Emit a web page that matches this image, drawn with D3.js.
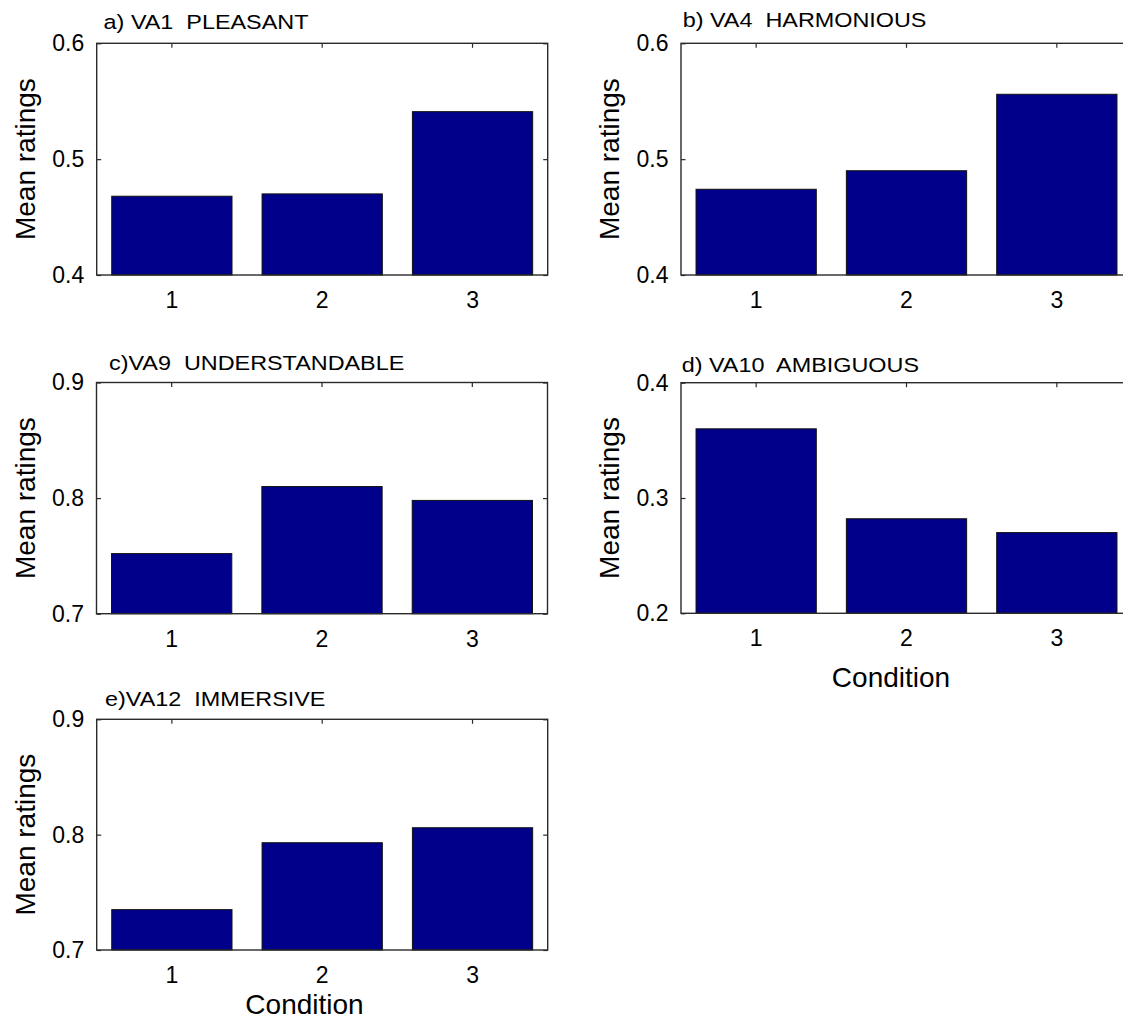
<!DOCTYPE html>
<html>
<head>
<meta charset="utf-8">
<script src="https://cdn.jsdelivr.net/npm/d3@7"></script>
<style>
  html, body { margin: 0; padding: 0; background: #fff; }
  svg { display: block; font-family: "Liberation Sans", Arial, Helvetica, sans-serif; }
</style>
</head>
<body>
<svg id="chart" width="1123" height="1021"></svg>
<script>
// ---- data ----
const categories = ["1", "2", "3"];
const titles = ["a) VA1  PLEASANT", "b) VA4  HARMONIOUS", "c)VA9  UNDERSTANDABLE", "d) VA10  AMBIGUOUS", "e)VA12  IMMERSIVE"];
const pleasant = [0.468, 0.470, 0.541];
const harmonious = [0.474, 0.490, 0.556];
const understandable = [0.752, 0.810, 0.798];
const ambiguous = [0.360, 0.282, 0.270];
const immersive = [0.735, 0.793, 0.806];
const ticksA = [0.4, 0.5, 0.6];
const ticksB = [0.4, 0.5, 0.6];
const ticksC = [0.7, 0.8, 0.9];
const ticksD = [0.2, 0.3, 0.4];
const ticksE = [0.7, 0.8, 0.9];
const yLabel = "Mean ratings";
const xLabel = "Condition";

// ---- layout (positions/styles only) ----
const layout = [
  { values: pleasant,       ticks: ticksA, title: titles[0], L: 96.7, R: 547.7, T: 43.3,  B: 275,   tx: 103.6, ty: 29.3,  xlab: false },
  { values: harmonious,     ticks: ticksB, title: titles[1], L: 681,  R: 1132,  T: 43.3,  B: 275,   tx: 682.7, ty: 26.5,  xlab: false },
  { values: understandable, ticks: ticksC, title: titles[2], L: 96.5, R: 547.5, T: 382.5, B: 613.7, tx: 109,   ty: 370,   xlab: false },
  { values: ambiguous,      ticks: ticksD, title: titles[3], L: 681,  R: 1132,  T: 382.7, B: 613.3, tx: 681.7, ty: 371.7, xlab: true, xlx: 891, xly: 687 },
  { values: immersive,      ticks: ticksE, title: titles[4], L: 96.7, R: 547.7, T: 719.3, B: 950,   tx: 105,   ty: 705.5, xlab: true, xlx: 304.5, xly: 1014 }
];

const barColor = "#00008a";
const axisColor = "#2a2a2a";
const tickLen = 4.5;

const svg = d3.select("#chart");

layout.forEach(p => {
  const g = svg.append("g");
  const x = d3.scaleBand().domain(categories).range([p.L, p.R]).paddingInner(0.2).paddingOuter(0.1);
  const y = d3.scaleLinear().domain([p.ticks[0], p.ticks[p.ticks.length - 1]]).range([p.B, p.T]);

  // tick axes (inside ticks)
  const left = g.append("g").attr("transform", `translate(${p.L},0)`)
    .call(d3.axisLeft(y).tickValues(p.ticks).tickFormat(d3.format(".1f")).tickSizeInner(-tickLen).tickSizeOuter(0).tickPadding(8 + tickLen));
  const right = g.append("g").attr("transform", `translate(${p.R},0)`)
    .call(d3.axisRight(y).tickValues(p.ticks).tickFormat("").tickSizeInner(-tickLen).tickSizeOuter(0));
  const top = g.append("g").attr("transform", `translate(0,${p.T})`)
    .call(d3.axisTop(x).tickFormat("").tickSizeInner(-tickLen).tickSizeOuter(0));
  const bottom = g.append("g").attr("transform", `translate(0,${p.B})`)
    .call(d3.axisBottom(x).tickSizeInner(-tickLen).tickSizeOuter(0).tickPadding(12 + tickLen));

  [left, right, top, bottom].forEach(a => {
    a.select(".domain").remove();
    a.selectAll(".tick line").attr("stroke", axisColor).attr("stroke-width", 1.2);
    a.selectAll(".tick text").attr("fill", "#000").attr("font-size", 23)
      .attr("font-family", "'Liberation Sans', Arial, Helvetica, sans-serif");
  });
  bottom.selectAll(".tick text").attr("dy", "0.71em");

  // bars
  g.append("g").selectAll("rect").data(p.values).join("rect")
    .attr("x", (d, i) => x(categories[i]))
    .attr("width", x.bandwidth())
    .attr("y", d => y(d))
    .attr("height", d => y(p.ticks[0]) - y(d))
    .attr("fill", barColor)
    .attr("stroke", "#111")
    .attr("stroke-width", 1);

  // axes box
  g.append("rect")
    .attr("x", p.L).attr("y", p.T).attr("width", p.R - p.L).attr("height", p.B - p.T)
    .attr("fill", "none").attr("stroke", axisColor).attr("stroke-width", 1.4);

  // title (slightly extended glyphs as in reference)
  g.append("text")
    .attr("transform", `translate(${p.tx},${p.ty}) scale(1.2,1)`)
    .attr("font-size", 19.5).attr("fill", "#000")
    .style("white-space", "pre")
    .text(p.title);

  // y label
  g.append("text")
    .attr("transform", `translate(${p.L - 62},${(p.T + p.B) / 2}) rotate(-90)`)
    .attr("text-anchor", "middle").attr("font-size", 28).attr("fill", "#000")
    .text(yLabel);

  if (p.xlab) {
    g.append("text")
      .attr("x", p.xlx).attr("y", p.xly)
      .attr("text-anchor", "middle").attr("font-size", 28).attr("fill", "#000")
      .text(xLabel);
  }
});
</script>
</body>
</html>
